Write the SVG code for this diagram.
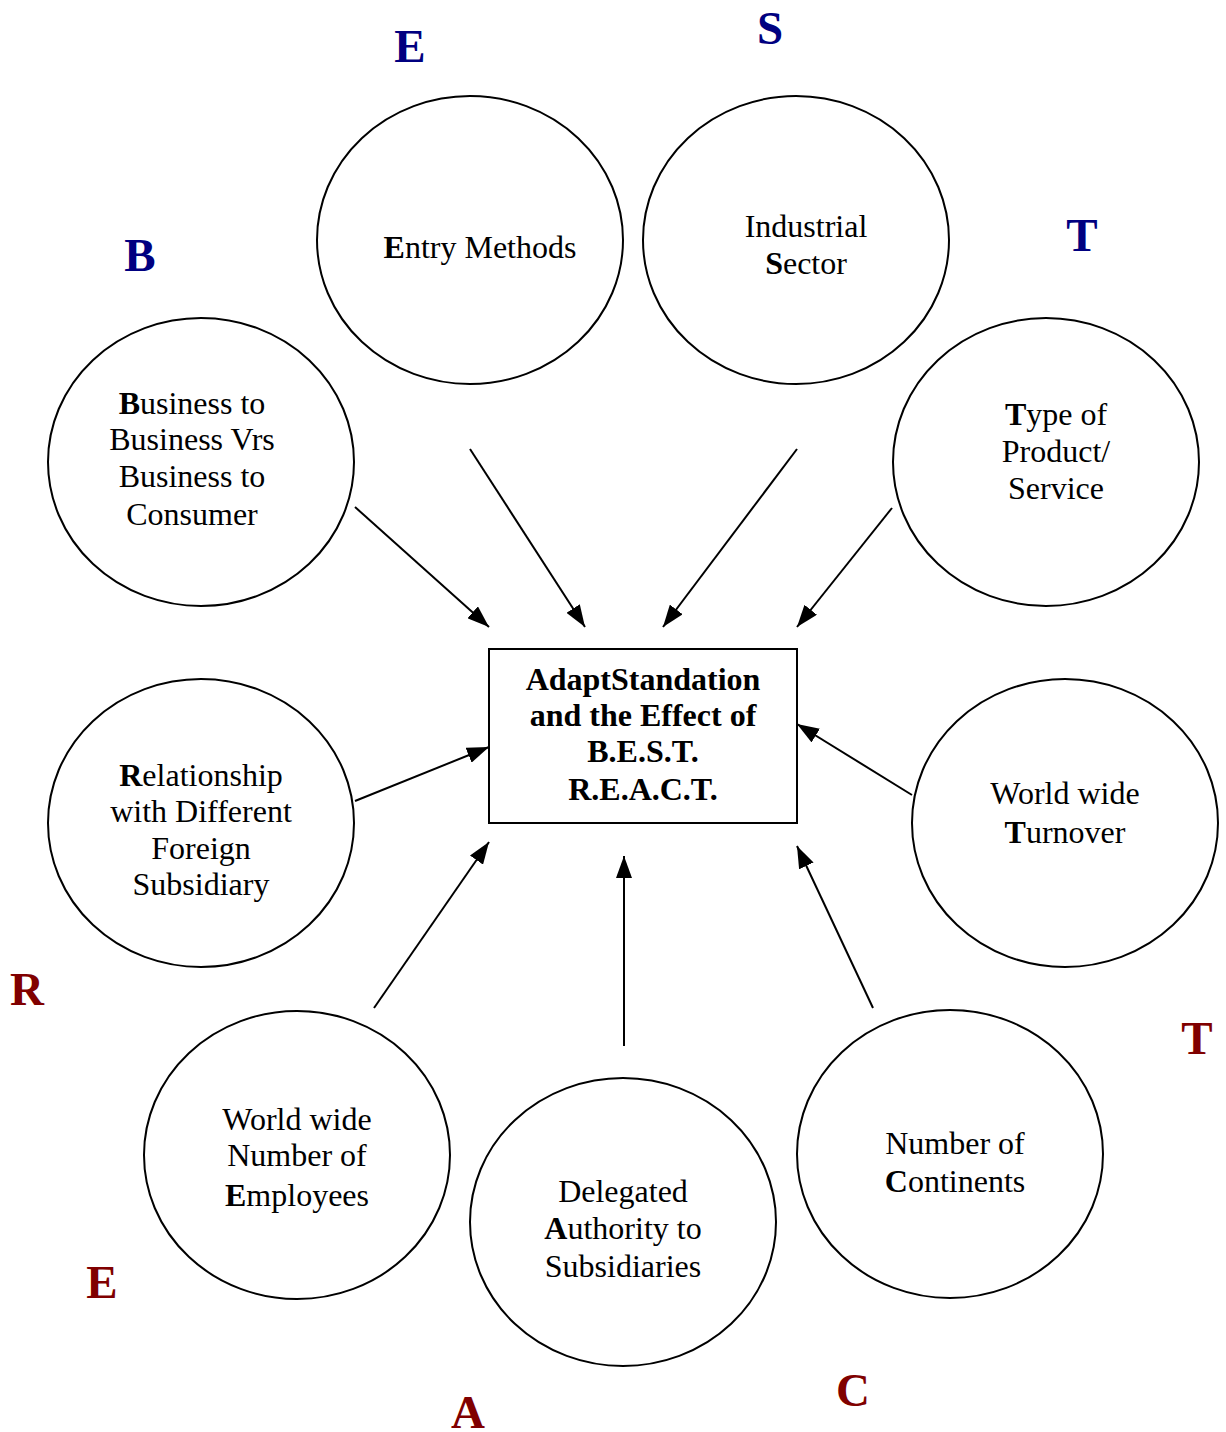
<svg xmlns="http://www.w3.org/2000/svg" width="1226" height="1432" viewBox="0 0 1226 1432">
  <style>
    .node ellipse, .node rect { fill: #fff; stroke: #000; stroke-width: 2; }
    .txt { font-family: "Liberation Serif", "Times New Roman", serif; font-size: 32px; fill: #000; text-anchor: middle; }
    .hub { font-weight: bold; }
    .b { font-weight: bold; }
    .letter { font-family: "Liberation Serif", "Times New Roman", serif; font-size: 47px; font-weight: bold; text-anchor: middle; }
    .blue { fill: #000080; }
    .red { fill: #800000; }
    #connectors line { stroke: #000; stroke-width: 2; marker-end: url(#arrow); }
  </style>
  <defs>
    <marker id="arrow" viewBox="0 0 22 16" refX="22" refY="8" markerWidth="22" markerHeight="16" markerUnits="userSpaceOnUse" orient="auto">
      <path d="M0,0 L22,8 L0,16 Z" fill="#000"/>
    </marker>
  </defs>
  <rect width="1226" height="1432" fill="#fff"/>

  <!-- acronym letters -->
  <text class="letter blue" x="410" y="62">E</text>
  <text class="letter blue" x="770" y="44">S</text>
  <text class="letter blue" x="1082" y="251">T</text>
  <text class="letter blue" x="140" y="271">B</text>
  <text class="letter red" x="27" y="1005">R</text>
  <text class="letter red" x="1197" y="1054">T</text>
  <text class="letter red" x="102" y="1298">E</text>
  <text class="letter red" x="468" y="1428">A</text>
  <text class="letter red" x="853" y="1406">C</text>

  <!-- connectors -->
  <g id="connectors">
    <line x1="355" y1="507" x2="489" y2="627"/>
    <line x1="470" y1="449" x2="585" y2="627"/>
    <line x1="797" y1="449" x2="663" y2="627"/>
    <line x1="892" y1="508" x2="797" y2="627"/>
    <line x1="355" y1="801" x2="489" y2="747"/>
    <line x1="912" y1="795" x2="797" y2="724"/>
    <line x1="374" y1="1008" x2="489" y2="842"/>
    <line x1="624" y1="1046" x2="624" y2="856"/>
    <line x1="873" y1="1008" x2="797" y2="846"/>
  </g>

  <g id="center" class="node">
    <rect x="489" y="649" width="308" height="174"/>
    <text class="txt hub" x="643" y="690">AdaptStandation</text>
    <text class="txt hub" x="643" y="726">and the Effect of</text>
    <text class="txt hub" x="643" y="762">B.E.S.T.</text>
    <text class="txt hub" x="643" y="800">R.E.A.C.T.</text>
  </g>

  <g id="entry" class="node">
    <ellipse cx="470" cy="240" rx="153" ry="144"/>
    <text class="txt" x="480" y="258"><tspan class="b">E</tspan>ntry Methods</text>
  </g>

  <g id="sector" class="node">
    <ellipse cx="796" cy="240" rx="153" ry="144"/>
    <text class="txt" x="806" y="237">Industrial</text>
    <text class="txt" x="806" y="274"><tspan class="b">S</tspan>ector</text>
  </g>

  <g id="business" class="node">
    <ellipse cx="201" cy="462" rx="153" ry="144"/>
    <text class="txt" x="192" y="414"><tspan class="b">B</tspan>usiness to</text>
    <text class="txt" x="192" y="450">Business Vrs</text>
    <text class="txt" x="192" y="487">Business to</text>
    <text class="txt" x="192" y="525">Consumer</text>
  </g>

  <g id="product" class="node">
    <ellipse cx="1046" cy="462" rx="153" ry="144"/>
    <text class="txt" x="1056" y="425"><tspan class="b">T</tspan>ype of</text>
    <text class="txt" x="1056" y="462">Product/</text>
    <text class="txt" x="1056" y="499">Service</text>
  </g>

  <g id="relationship" class="node">
    <ellipse cx="201" cy="823" rx="153" ry="144"/>
    <text class="txt" x="201" y="786"><tspan class="b">R</tspan>elationship</text>
    <text class="txt" x="201" y="822">with Different</text>
    <text class="txt" x="201" y="859">Foreign</text>
    <text class="txt" x="201" y="895">Subsidiary</text>
  </g>

  <g id="turnover" class="node">
    <ellipse cx="1065" cy="823" rx="153" ry="144"/>
    <text class="txt" x="1065" y="804">World wide</text>
    <text class="txt" x="1065" y="843"><tspan class="b">T</tspan>urnover</text>
  </g>

  <g id="employees" class="node">
    <ellipse cx="297" cy="1155" rx="153" ry="144"/>
    <text class="txt" x="297" y="1130">World wide</text>
    <text class="txt" x="297" y="1166">Number of</text>
    <text class="txt" x="297" y="1206"><tspan class="b">E</tspan>mployees</text>
  </g>

  <g id="authority" class="node">
    <ellipse cx="623" cy="1222" rx="153" ry="144"/>
    <text class="txt" x="623" y="1202">Delegated</text>
    <text class="txt" x="623" y="1239"><tspan class="b">A</tspan>uthority to</text>
    <text class="txt" x="623" y="1277">Subsidiaries</text>
  </g>

  <g id="continents" class="node">
    <ellipse cx="950" cy="1154" rx="153" ry="144"/>
    <text class="txt" x="955" y="1154">Number of</text>
    <text class="txt" x="955" y="1192"><tspan class="b">C</tspan>ontinents</text>
  </g>
</svg>
